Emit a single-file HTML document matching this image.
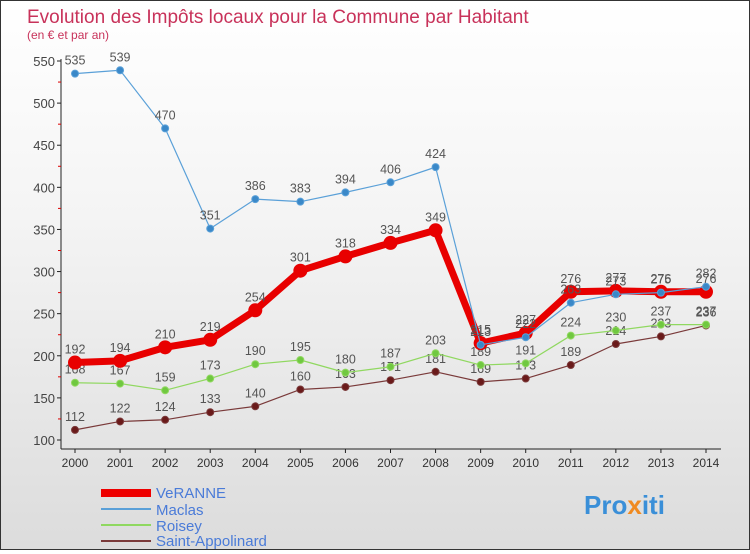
<!DOCTYPE html>
<html><head><meta charset="utf-8"><style>
body{margin:0;width:750px;height:550px;overflow:hidden;font-family:"Liberation Sans",sans-serif}
#wrap{position:relative;width:748px;height:548px;border:1px solid #333;background:linear-gradient(#ffffff,#f4f4f4 40%,#dcdcdc)}
</style></head><body>
<div id="wrap">
<svg id="chart" width="748" height="548">
<text x="26" y="22" font-size="19" fill="#c8325a">Evolution des Impôts locaux pour la Commune par Habitant</text>
<text x="26" y="38" font-size="12" fill="#c8325a">(en € et par an)</text>
<rect x="100" y="488" width="50" height="8" fill="#e00"/>
<text x="155" y="497" font-size="15" fill="#4a7bd8">VeRANNE</text>
<line x1="100" y1="508" x2="150" y2="508" stroke="#5aa0d8" stroke-width="2"/>
<text x="155" y="514" font-size="15" fill="#4a7bd8">Maclas</text>
<line x1="100" y1="524" x2="150" y2="524" stroke="#8fd860" stroke-width="2"/>
<text x="155" y="530" font-size="15" fill="#4a7bd8">Roisey</text>
<line x1="100" y1="540" x2="150" y2="540" stroke="#7a3a3a" stroke-width="2"/>
<text x="155" y="545" font-size="15" fill="#4a7bd8">Saint-Appolinard</text>
<text x="583" y="513" font-size="26" font-weight="bold" fill="#3a8fd8">Pro<tspan fill="#f08a20">x</tspan>iti</text>
</svg>
</div>
<script>
const years=[2000,2001,2002,2003,2004,2005,2006,2007,2008,2009,2010,2011,2012,2013,2014];
const yTicks=[100,150,200,250,300,350,400,450,500,550];
const veranne=[192,194,210,219,254,301,318,334,349,215,227,276,277,276,276];
const maclas=[535,539,470,351,386,383,394,406,424,213,222,263,273,275,282];
const roisey=[168,167,159,173,190,195,180,187,203,189,191,224,230,237,237];
const saint=[112,122,124,133,140,160,163,171,181,169,173,189,214,223,236];
const svg=document.getElementById('chart');const NS='http://www.w3.org/2000/svg';
function X(i){return 74+i*(705-74)/(years.length-1);}
function Y(v){return 439-(v-100)*(439-60)/450;}
function mk(t,a){const e=document.createElementNS(NS,t);for(const k in a)e.setAttribute(k,a[k]);svg.appendChild(e);return e;}
let ax=mk('line',{x1:60,y1:58,x2:60,y2:448,stroke:'#222'});


let xa=mk('line',{x1:60,y1:448,x2:720,y2:448,stroke:'#222'});


yTicks.forEach((v,i)=>{const y=Y(v);
mk('line',{x1:56,y1:y,x2:60,y2:y,stroke:'#222'});
if(i<yTicks.length-1)mk('line',{x1:57,y1:Y(v+25),x2:60,y2:Y(v+25),stroke:'#d00'});
const t=mk('text',{x:54,y:y+5,'font-size':13,fill:'#444','text-anchor':'end'});t.textContent=v;

});
years.forEach((yr,i)=>{mk('line',{x1:X(i),y1:448,x2:X(i),y2:452,stroke:'#222'});
const t=mk('text',{x:X(i),y:466,'font-size':12,fill:'#333','text-anchor':'middle'});t.textContent=yr;

});
function series(d,name,color,w,r,dot){
const g=document.createElementNS(NS,'g');svg.appendChild(g);


const p=document.createElementNS(NS,'polyline');
p.setAttribute('points',d.map((v,i)=>X(i)+','+Y(v)).join(' '));
p.setAttribute('fill','none');p.setAttribute('stroke',color);p.setAttribute('stroke-width',w);p.setAttribute('stroke-linejoin','round');g.appendChild(p);
d.forEach((v,i)=>{const c=document.createElementNS(NS,'circle');
c.setAttribute('cx',X(i));c.setAttribute('cy',Y(v));c.setAttribute('r',r);c.setAttribute('fill',dot);
c.setAttribute('stroke',color);c.setAttribute('stroke-width',1);


g.appendChild(c);
const t=document.createElementNS(NS,'text');t.setAttribute('x',X(i));t.setAttribute('y',Y(v)-9);
t.setAttribute('font-size',12.5);t.setAttribute('fill','#555');t.setAttribute('text-anchor','middle');t.textContent=v;


g.appendChild(t);});}
series(saint,'saint-appolinard','#7a3a3a',1.2,3.5,'#6a1a1a');
series(roisey,'roisey','#90d860',1.2,3.5,'#70c840');
series(veranne,'veranne','#e80000',7,6.5,'#e80000');
series(maclas,'maclas','#5aa0d8',1.2,3.5,'#3a88c8');
</script>
</body></html>
